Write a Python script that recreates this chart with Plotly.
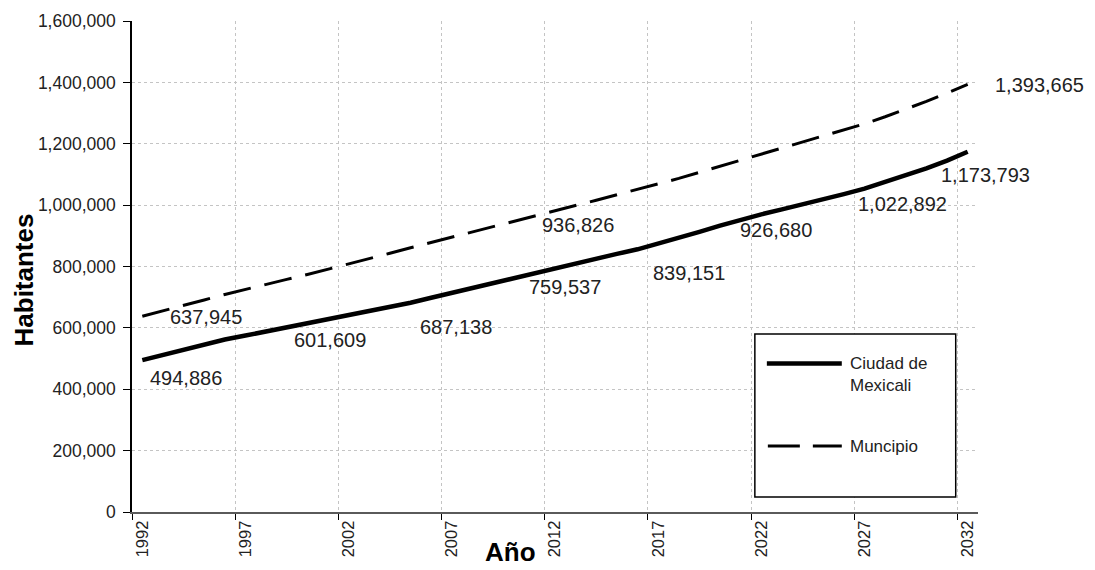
import plotly.graph_objects as go

# ---------------- data ----------------
years = list(range(1992, 2033))
ciudad = [494886, 512000, 529000, 546000, 562000, 575000, 588000, 601000, 614000, 627000,
          640000, 654000, 668000, 682000, 698000, 714000, 731000, 747000, 763000, 780000,
          796000, 811000, 826000, 841000, 856000, 874000, 893000, 913000, 933000, 952000,
          970000, 986000, 1002000, 1019000, 1036000, 1054000, 1075000, 1097000, 1120000, 1145000,
          1173793]
municipio = [637945, 655000, 673000, 691000, 709000, 726000, 742000, 758000, 774000, 791000,
             807000, 825000, 843000, 861000, 878000, 895000, 912000, 929000, 947000, 964000,
             982000, 999000, 1016000, 1034000, 1051000, 1069000, 1087000, 1107000, 1127000, 1147000,
             1167000, 1186000, 1206000, 1226000, 1245000, 1265000, 1288000, 1312000, 1338000, 1365000,
             1393665]
tick_years = [1992, 1997, 2002, 2007, 2012, 2017, 2022, 2027, 2032]
y_ticks = [0, 200000, 400000, 600000, 800000, 1000000, 1200000, 1400000, 1600000]

# data labels: value text and where it sits (axis units)
label_values = [494886, 601609, 687138, 759537, 839151, 926680, 1022892, 1173793, 637945, 936826, 1393665]
label_x = [1994.1, 2001.1, 2007.2, 2012.5, 2018.5, 2022.7, 2028.85, 2032.87, 1995.1, 2013.1, 2035.5]
label_y = [436000, 560000, 602000, 734000, 778000, 918000, 1005000, 1098000, 635000, 935000, 1391000]

series_names = ["Ciudad de<br>Mexicali", "Muncipio"]

FONT = "Arial, Liberation Sans, sans-serif"
W, H = 1095, 570
L, R, T, B = 131.7, 978.3, 20.8, 512.0
XR = [1991.5, 2032.5]
YR = [0, 1600000]

fig = go.Figure()
fig.add_trace(go.Scatter(x=years, y=ciudad, mode="lines", name="Ciudad de Mexicali",
                         line=dict(color="black", width=4.5), showlegend=False))
fig.add_trace(go.Scatter(x=years, y=municipio, mode="lines", name="Muncipio",
                         line=dict(color="black", width=3, dash="28px,14px"), showlegend=False))

# labels placed in paper units so those past the axis end stay visible
for v, x, y in zip(label_values, label_x, label_y):
    fig.add_annotation(x=(x - XR[0]) / (XR[1] - XR[0]), y=(y - YR[0]) / (YR[1] - YR[0]),
                       xref="paper", yref="paper", text=f"{v:,}", showarrow=False,
                       xanchor="center", yanchor="middle",
                       font=dict(family=FONT, size=20, color="#222"))

# legend drawn by hand
def px(p):
    return (p - L) / (R - L)

def py(p):
    return (B - p) / (B - T)

fig.add_shape(type="rect", xref="paper", yref="paper", x0=px(755), x1=px(956), y0=py(497), y1=py(334),
              line=dict(color="black", width=1.5), fillcolor="white", layer="above")
fig.add_shape(type="line", xref="paper", yref="paper", x0=px(767), x1=px(842), y0=py(363.5), y1=py(363.5),
              line=dict(color="black", width=4.5), layer="above")
fig.add_shape(type="line", xref="paper", yref="paper", x0=px(768), x1=px(842), y0=py(446), y1=py(446),
              line=dict(color="black", width=3, dash="32px,13px"), layer="above")
fig.add_annotation(xref="paper", yref="paper", x=px(848), y=py(374), text=series_names[0],
                   showarrow=False, xanchor="left", yanchor="middle", align="left",
                   font=dict(family=FONT, size=17, color="#222"))
fig.add_annotation(xref="paper", yref="paper", x=px(848), y=py(446), text=series_names[1],
                   showarrow=False, xanchor="left", yanchor="middle", align="left",
                   font=dict(family=FONT, size=17, color="#222"))

# axis titles
fig.add_annotation(xref="paper", yref="paper", x=px(510), y=py(552), text="<b>Año</b>",
                   showarrow=False, xanchor="center", yanchor="middle",
                   font=dict(family=FONT, size=26, color="black"))
fig.add_annotation(xref="paper", yref="paper", x=px(24), y=py(280), text="<b>Habitantes</b>",
                   showarrow=False, xanchor="center", yanchor="middle", textangle=-90,
                   font=dict(family=FONT, size=26, color="black"))

fig.update_layout(
    width=W, height=H,
    margin=dict(l=L, r=W - R, t=T, b=H - B),
    paper_bgcolor="white", plot_bgcolor="white",
    font=dict(family=FONT, size=17, color="#222"),
)
fig.update_xaxes(
    range=XR, tickmode="array", tickvals=tick_years,
    ticktext=[str(y) for y in tick_years], tickangle=-90, ticks="", showgrid=False,
    showline=True, linecolor="#5a5a5a", linewidth=2, zeroline=False,
    tickfont=dict(family=FONT, size=16.5, color="#222"),
    minor=dict(tickmode="array", tickvals=[y - 0.5 for y in tick_years], ticks="outside",
               ticklen=6, tickcolor="black", tickwidth=1.2, showgrid=True,
               gridcolor="#c4c4c4", griddash="dot", gridwidth=1),
)
fig.update_yaxes(
    range=YR, tickmode="array", tickvals=y_ticks, tickformat=",",
    ticks="outside", ticklen=7, tickcolor="black", tickwidth=1.2,
    showline=True, linecolor="black", linewidth=1.5, zeroline=False,
    showgrid=True, gridcolor="#c4c4c4", griddash="dot", gridwidth=1,
    ticklabelstandoff=4,
    tickfont=dict(family=FONT, size=17.5, color="#222"),
)

fig.write_html("out.html")
